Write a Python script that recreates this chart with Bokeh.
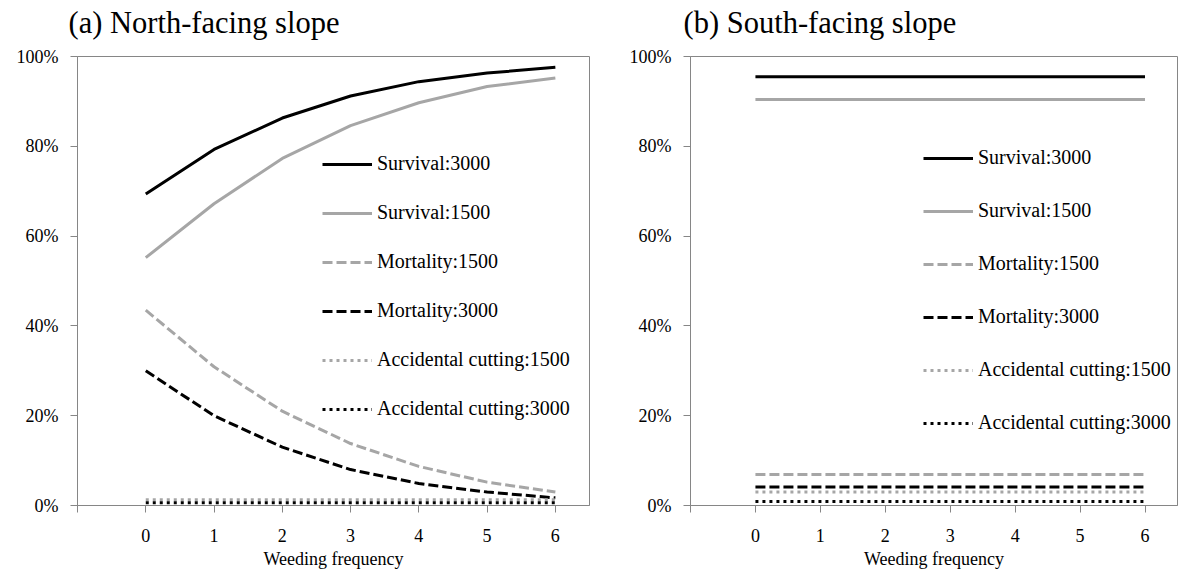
from bokeh.plotting import figure
from bokeh.models import Range1d, FixedTicker, NumeralTickFormatter, Legend, LegendItem
from bokeh.core.properties import value
from bokeh.layouts import row, column
from bokeh.embed import file_html
from bokeh.resources import INLINE

weeding = [0, 1, 2, 3, 4, 5, 6]
x_ticks = [-1, 0, 1, 2, 3, 4, 5, 6]

north_surv3000 = [0.694, 0.793, 0.863, 0.912, 0.944, 0.963, 0.976]
north_surv1500 = [0.552, 0.672, 0.773, 0.846, 0.897, 0.933, 0.952]
north_mort1500 = [0.435, 0.309, 0.210, 0.138, 0.087, 0.052, 0.030]
north_mort3000 = [0.300, 0.200, 0.130, 0.080, 0.049, 0.030, 0.017]
north_acc1500 = [0.013, 0.013, 0.013, 0.013, 0.013, 0.013, 0.013]
north_acc3000 = [0.006, 0.006, 0.006, 0.006, 0.006, 0.006, 0.006]

south_surv3000 = [0.955, 0.955, 0.955, 0.955, 0.955, 0.955, 0.955]
south_surv1500 = [0.904, 0.904, 0.904, 0.904, 0.904, 0.904, 0.904]
south_mort1500 = [0.069, 0.069, 0.069, 0.069, 0.069, 0.069, 0.069]
south_mort3000 = [0.041, 0.041, 0.041, 0.041, 0.041, 0.041, 0.041]
south_acc1500 = [0.030, 0.030, 0.030, 0.030, 0.030, 0.030, 0.030]
south_acc3000 = [0.009, 0.009, 0.009, 0.009, 0.009, 0.009, 0.009]

titles = ["(a) North-facing slope", "(b) South-facing slope"]
x_label = "Weeding frequency"
series_names = ["Survival:3000", "Survival:1500", "Mortality:1500",
                "Mortality:3000", "Accidental cutting:1500", "Accidental cutting:3000"]

FONT = "Liberation Serif"
BLACK = "#000000"
GRAY = "#A6A6A6"
AXIS = "#868686"
STRIP_H = 44
MAIN_H = 576 - STRIP_H

styles = [
    dict(color=BLACK, dash="solid"),
    dict(color=GRAY, dash="solid"),
    dict(color=GRAY, dash="10 4"),
    dict(color=BLACK, dash="10 4"),
    dict(color=GRAY, dash="3 4"),
    dict(color=BLACK, dash="3 4"),
]


def drop_title(p):
    try:
        p.title = None
    except Exception:
        p.title.text = ""
        p.title.standoff = 0
        p.title.text_font_size = "0px"


def make_panel(series, width, border_left, border_top, border_bottom,
               legend_loc, legend_spacing):
    p = figure(width=width, height=MAIN_H, output_backend="svg", toolbar_location=None,
               x_range=Range1d(-1, 6.5), y_range=Range1d(0, 1),
               min_border_left=border_left, min_border_right=1,
               min_border_top=border_top, min_border_bottom=border_bottom,
               background_fill_color="white", border_fill_color="white")
    drop_title(p)
    p.outline_line_color = AXIS
    p.outline_line_width = 1
    p.xgrid.visible = False
    p.ygrid.visible = False

    p.xaxis.ticker = FixedTicker(ticks=x_ticks)
    p.xaxis.major_label_overrides = {-1: ""}
    p.yaxis.ticker = FixedTicker(ticks=[0, 0.2, 0.4, 0.6, 0.8, 1.0])
    p.yaxis.formatter = NumeralTickFormatter(format="0%")
    p.xaxis.axis_label = x_label
    for ax in (p.xaxis, p.yaxis):
        ax.axis_line_color = AXIS
        ax.major_tick_line_color = AXIS
        ax.major_tick_in = 0
        ax.major_tick_out = 7
        ax.minor_tick_line_color = None
        ax.major_label_text_font = FONT
        ax.major_label_text_font_size = "18px"
        ax.major_label_text_color = "black"
        ax.axis_label_text_font = FONT
        ax.axis_label_text_font_size = "18px"
        ax.axis_label_text_font_style = "normal"
        ax.axis_label_text_color = "black"
    p.yaxis.major_label_standoff = 12
    p.xaxis.major_label_standoff = 16
    p.xaxis.axis_label_standoff = 4

    items = []
    for name, ys, st in zip(series_names, series, styles):
        r = p.line(weeding, ys, line_color=st["color"], line_width=3,
                   line_dash=st["dash"])
        items.append(LegendItem(label=name, renderers=[r]))

    legend = Legend(items=items, location=legend_loc, orientation="vertical",
                    glyph_width=50, glyph_height=22, label_height=22,
                    label_standoff=5, spacing=legend_spacing, padding=0, margin=0,
                    label_text_font=FONT, label_text_font_size="20px",
                    label_text_color="black",
                    background_fill_alpha=0, border_line_alpha=0)
    p.add_layout(legend, "center")
    return p


# title strip: one pixel = one unit
strip = figure(width=1178, height=STRIP_H, output_backend="svg", toolbar_location=None,
               x_range=Range1d(0, 1178), y_range=Range1d(0, STRIP_H),
               x_axis_type=None, y_axis_type=None, min_border=0,
               background_fill_color="white", border_fill_color="white")
drop_title(strip)
strip.outline_line_color = None
strip.xgrid.visible = False
strip.ygrid.visible = False
strip.text(x=[68, 683], y=[STRIP_H - 22, STRIP_H - 22], text=titles,
           text_font=value(FONT), text_font_size="30.5px", text_color="black",
           text_align="left", text_baseline="middle")

north = [north_surv3000, north_surv1500, north_mort1500, north_mort3000,
         north_acc1500, north_acc3000]
south = [south_surv3000, south_surv1500, south_mort1500, south_mort3000,
         south_acc1500, south_acc3000]

p1 = make_panel(north, 590, 77, 12, 67, (245, 85), 26)
p2 = make_panel(south, 588, 100, 11, 71, (233, 71), 30)

layout = column(strip, row(p1, p2, spacing=0), spacing=0)
open("out.html", "w").write(file_html(layout, INLINE))
